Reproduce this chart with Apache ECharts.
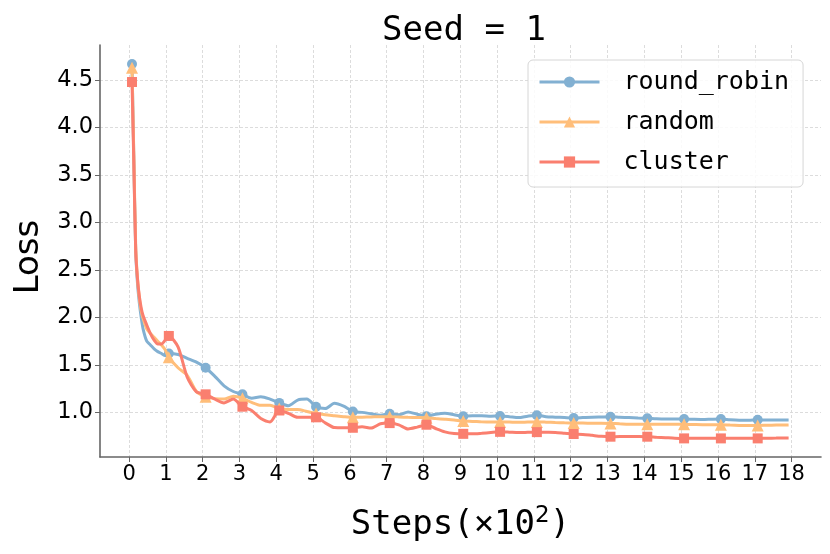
<!DOCTYPE html>
<html>
<head>
<meta charset="utf-8">
<script src="https://cdn.jsdelivr.net/npm/echarts@6/dist/echarts.min.js"></script>
<style>html,body{margin:0;padding:0;background:#fff}#c{width:830px;height:554px}</style>
</head>
<body>
<div id="c"></div>
<script>
const steps = [0.08, 0.13, 0.18, 0.23, 0.28, 0.33, 0.38, 0.48, 0.58, 0.68, 0.78, 0.88, 0.98,
  1.08, 1.33, 1.58, 1.83, 2.08, 2.33, 2.58, 2.83, 3.08, 3.33, 3.58, 3.83, 4.08, 4.33, 4.58, 4.83,
  5.08, 5.33, 5.58, 5.83, 6.08, 6.33, 6.58, 6.83, 7.08, 7.33, 7.58, 7.83, 8.08, 8.33, 8.58, 8.83,
  9.08, 9.33, 9.58, 9.83, 10.08, 10.33, 10.58, 10.83, 11.08, 11.33, 11.58, 11.83, 12.08, 12.33,
  12.58, 12.83, 13.08, 13.33, 13.58, 13.83, 14.08, 14.33, 14.58, 14.83, 15.08, 15.33, 15.58, 15.83,
  16.08, 16.33, 16.58, 16.83, 17.08, 17.33, 17.58, 17.83, 17.92];

const roundRobin = [4.67, 3.65, 2.70, 2.35, 2.15, 2.00, 1.88, 1.75, 1.71, 1.67, 1.64, 1.62, 1.60,
  1.62, 1.61, 1.57, 1.53, 1.47, 1.38, 1.28, 1.22, 1.19, 1.15, 1.165, 1.14, 1.10, 1.07, 1.13, 1.14,
  1.06, 1.04, 1.095, 1.065, 1.01, 1.0, 0.985, 0.97, 0.985, 0.975, 1.005, 0.98, 0.96, 0.98, 0.99, 0.975,
  0.96, 0.965, 0.965, 0.96, 0.962, 0.955, 0.945, 0.96, 0.97, 0.955, 0.95, 0.945, 0.94, 0.945,
  0.95, 0.952, 0.954, 0.948, 0.945, 0.94, 0.937, 0.932, 0.93, 0.93, 0.93, 0.927, 0.925, 0.928,
  0.93, 0.922, 0.918, 0.918, 0.922, 0.92, 0.92, 0.92, 0.92];

const random = [4.63, 3.70, 2.75, 2.40, 2.20, 2.07, 1.99, 1.88, 1.83, 1.79, 1.75, 1.71, 1.66,
  1.58, 1.47, 1.39, 1.22, 1.165, 1.145, 1.14, 1.17, 1.15, 1.105, 1.075, 1.075, 1.04, 1.03, 1.03, 1.01,
  0.988, 0.975, 0.965, 0.955, 0.948, 0.95, 0.952, 0.955, 0.955, 0.952, 0.948, 0.946, 0.944, 0.935, 0.928, 0.92,
  0.908, 0.905, 0.90, 0.898, 0.90, 0.898, 0.895, 0.898, 0.90, 0.897, 0.893, 0.89, 0.888, 0.887,
  0.886, 0.886, 0.884, 0.88, 0.876, 0.875, 0.874, 0.874, 0.875, 0.875, 0.874, 0.872, 0.87, 0.87,
  0.87, 0.866, 0.863, 0.862, 0.862, 0.864, 0.866, 0.867, 0.868];

const cluster = [4.48, 3.60, 2.70, 2.40, 2.22, 2.10, 2.02, 1.92, 1.83, 1.76, 1.72, 1.72, 1.76,
  1.805, 1.69, 1.37, 1.215, 1.19, 1.14, 1.10, 1.14, 1.06, 1.02, 0.935, 0.90, 1.02, 0.99, 0.948, 0.948,
  0.948, 0.89, 0.84, 0.838, 0.838, 0.848, 0.835, 0.88, 0.887, 0.868, 0.825, 0.845, 0.87, 0.83, 0.795, 0.778,
  0.774, 0.774, 0.78, 0.788, 0.795, 0.792, 0.788, 0.79, 0.792, 0.79, 0.788, 0.78, 0.772, 0.768,
  0.758, 0.748, 0.744, 0.745, 0.747, 0.746, 0.744, 0.738, 0.733, 0.728, 0.726, 0.727, 0.728, 0.727,
  0.726, 0.727, 0.728, 0.727, 0.726, 0.728, 0.729, 0.73, 0.73];

const seriesNames = ['round_robin', 'random', 'cluster'];
const xTicks = [0, 1, 2, 3, 4, 5, 6, 7, 8, 9, 10, 11, 12, 13, 14, 15, 16, 17, 18];
const yTicks = [1.0, 1.5, 2.0, 2.5, 3.0, 3.5, 4.0, 4.5];

const colors = ['#82B0D2', '#FFBE7A', '#FA7F6F'];
const symbols = ['circle', 'triangle', 'rect'];
const symbolSizes = [10, 12, 10];
const MONO = 'DejaVu Sans Mono';
const SANS = 'DejaVu Sans';

function isMarker(x) {
  const d = x - 0.08;
  return Math.abs(d - Math.round(d)) < 1e-6;
}
function build(vals) {
  return steps.map((x, i) => isMarker(x) ? { value: [x, vals[i]] } : { value: [x, vals[i]], symbol: 'none' });
}

const allVals = [roundRobin, random, cluster];
const series = allVals.map((vals, k) => ({
  name: seriesNames[k],
  type: 'line',
  data: build(vals),
  smooth: 0.25,
  symbol: symbols[k],
  symbolSize: symbolSizes[k],
  showAllSymbol: true,
  lineStyle: { color: colors[k], width: 3 },
  itemStyle: { color: colors[k] },
  emphasis: { disabled: true },
  z: 2 + k
}));

const chart = echarts.init(document.getElementById('c'), null, { renderer: 'canvas' });
chart.setOption({
  animation: false,
  backgroundColor: '#fff',
  title: {
    text: 'Seed = 1',
    left: 459,
    textAlign: 'center',
    top: 9,
    textStyle: { fontFamily: MONO, fontSize: 34, fontWeight: 'normal', color: '#000' }
  },
  legend: {
    orient: 'vertical',
    left: 528,
    top: 60,
    padding: [7, 14, 10, 10],
    itemWidth: 60,
    itemHeight: 14,
    itemGap: 10,
    lineStyle: { width: 3 },
    backgroundColor: 'rgba(255,255,255,0.85)',
    borderColor: '#d6d6d6',
    borderWidth: 1,
    borderRadius: 5,
    textStyle: { fontFamily: MONO, fontSize: 25, color: '#000', lineHeight: 30, padding: [0, 0, 0, 19] },
    data: seriesNames
  },
  grid: { left: 100, right: 9, top: 45, bottom: 97, containLabel: false },
  xAxis: {
    type: 'value',
    min: -0.79,
    max: 18.8,
    name: 'Steps(×10{sup|2})',
    nameLocation: 'middle',
    nameGap: 48,
    nameTextStyle: { fontFamily: MONO, fontSize: 34, color: '#000',
      rich: { sup: { fontFamily: SANS, fontSize: 23, color: '#000', verticalAlign: 'top', lineHeight: 40 } } },
    axisLine: { show: true, onZero: false, lineStyle: { color: '#666', width: 1.6 } },
    axisTick: { show: true, length: 5, lineStyle: { color: '#666' }, customValues: xTicks },
    axisLabel: { customValues: xTicks, fontFamily: SANS, fontSize: 21, color: '#000', margin: 7 },
    splitLine: { show: true, lineStyle: { color: '#d8d8d8', width: 0.9, type: [3, 2] } }
  },
  yAxis: {
    type: 'value',
    min: 0.53,
    max: 4.87,
    name: 'Loss',
    nameLocation: 'middle',
    nameRotate: 90,
    nameGap: 47,
    nameTextStyle: { fontFamily: SANS, fontSize: 34, color: '#000', padding: [0, 12, 0, 0] },
    axisLine: { show: true, onZero: false, lineStyle: { color: '#666', width: 1.6 } },
    axisTick: { show: true, length: 5, lineStyle: { color: '#666' }, customValues: yTicks },
    axisLabel: { customValues: yTicks, fontFamily: SANS, fontSize: 22.5, color: '#000', margin: 7,
      formatter: v => v.toFixed(1) },
    splitLine: { show: true, lineStyle: { color: '#d8d8d8', width: 0.9, type: [3, 2] } }
  },
  series: series
});
</script>
</body>
</html>
